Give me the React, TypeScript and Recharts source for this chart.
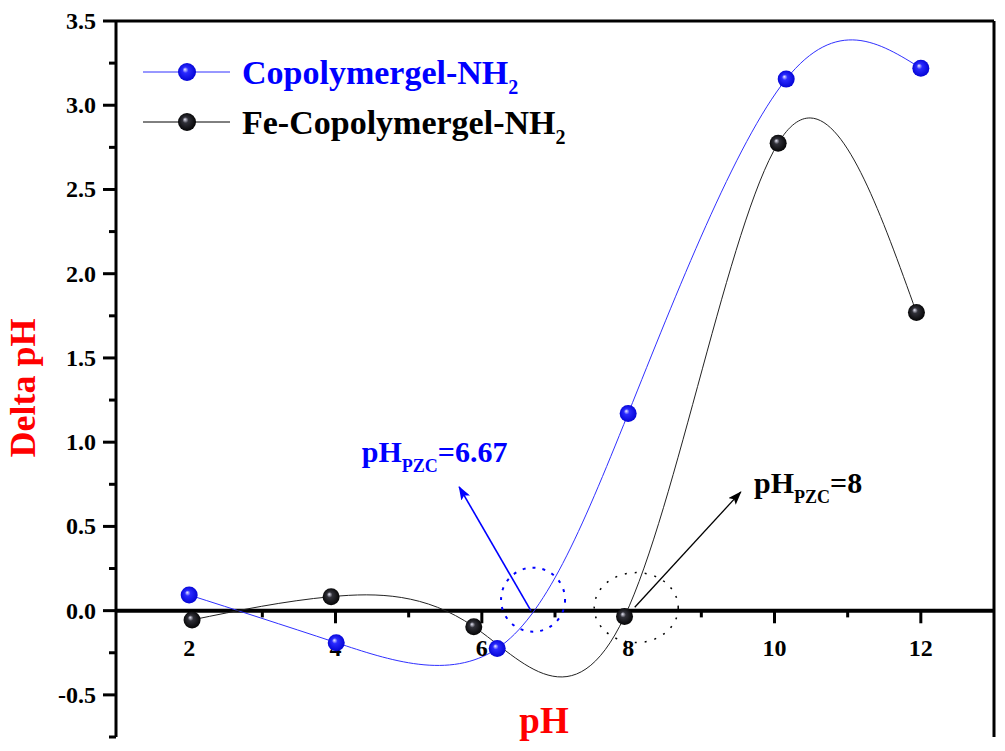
import React from "react";
import {
  LineChart,
  Line,
  XAxis,
  YAxis,
  ReferenceLine,
  ReferenceDot,
} from "recharts";

// measured points (pH, delta pH)
const bluePH = [2, 4.01, 6.21, 8, 10.16, 12];
const blueDelta = [0.093, -0.19, -0.225, 1.17, 3.155, 3.22];
const blackPH = [2.04, 3.94, 5.89, 7.95, 10.05, 11.94];
const blackDelta = [-0.055, 0.083, -0.095, -0.035, 2.775, 1.77];

const xMajorTicks = [2, 4, 6, 8, 10, 12];
const xMinorTicks = [3, 5, 7, 9, 11];
const yTicks = [-0.75, -0.5, -0.25, 0, 0.25, 0.5, 0.75, 1, 1.25, 1.5, 1.75, 2, 2.25, 2.5, 2.75, 3, 3.25, 3.5];

const pzcBlue = 6.67;
const pzcBlack = 8;

const serif = "'Liberation Serif', 'Times New Roman', serif";

const blueData = bluePH.map((x, i) => ({ x, y: blueDelta[i] }));
const blackData = blackPH.map((x, i) => ({ x, y: blackDelta[i] }));

const Ball = ({ cx, cy, grad }: any) => (
  <circle cx={cx} cy={cy} r={8.5} fill={`url(#${grad})`} />
);

const YTick = ({ x, y, payload }: any) => {
  const v = payload.value;
  const major = Math.abs(v * 2 - Math.round(v * 2)) < 1e-6;
  return (
    <g>
      <line x1={x - (major ? 13 : 7)} x2={x} y1={y} y2={y} stroke="#000" strokeWidth={3} />
      {major && (
        <text
          x={x - 20}
          y={y + 8}
          textAnchor="end"
          fontFamily={serif}
          fontWeight="bold"
          fontSize={24}
          fill="#000"
        >
          {v.toFixed(1)}
        </text>
      )}
    </g>
  );
};

const PzcText = ({ cx, cy, value, color }: any) => (
  <text x={cx} y={cy} fontFamily={serif} fontWeight="bold" fill={color} fontSize={30}>
    pH
    <tspan fontSize={18} dy={10}>PZC</tspan>
    <tspan fontSize={30} dy={-10}>={value}</tspan>
  </text>
);

const Legend = () => (
  <svg
    width={460}
    height={120}
    style={{ position: "absolute", left: 130, top: 40 }}
  >
    <line x1={13} x2={100} y1={32} y2={32} stroke="#3030ff" strokeWidth={1} />
    <circle cx={57} cy={32} r={9} fill="url(#ballBlueL)" />
    <text x={112} y={44} fontFamily={serif} fontWeight="bold" fontSize={34} fill="#0000ff">
      Copolymergel-NH<tspan fontSize={20} dy={10}>2</tspan>
    </text>
    <line x1={13} x2={100} y1={82} y2={82} stroke="#000" strokeWidth={1} />
    <circle cx={57} cy={82} r={9} fill="url(#ballBlackL)" />
    <text x={112} y={94} fontFamily={serif} fontWeight="bold" fontSize={34} fill="#000">
      Fe-Copolymergel-NH<tspan fontSize={20} dy={10}>2</tspan>
    </text>
    <defs>
      <radialGradient id="ballBlueL" cx="0.5" cy="0.5" r="0.55" fx="0.38" fy="0.35">
        <stop offset="0" stopColor="#f0f0ff" />
        <stop offset="0.3" stopColor="#2a2aff" />
        <stop offset="1" stopColor="#0000d0" />
      </radialGradient>
      <radialGradient id="ballBlackL" cx="0.5" cy="0.5" r="0.55" fx="0.38" fy="0.35">
        <stop offset="0" stopColor="#e8e8f8" />
        <stop offset="0.3" stopColor="#303038" />
        <stop offset="1" stopColor="#000" />
      </radialGradient>
    </defs>
  </svg>
);

export default function App() {
  return (
    <div style={{ position: "absolute", left: 0, top: 0, width: 1005, height: 751, background: "#fff" }}>
      <LineChart
        width={1005}
        height={751}
        margin={{ top: 21, right: 11, bottom: 14, left: 0 }}
      >
        <defs>
          <radialGradient id="ballBlue" cx="0.5" cy="0.5" r="0.55" fx="0.38" fy="0.35">
            <stop offset="0" stopColor="#f0f0ff" />
            <stop offset="0.3" stopColor="#2a2aff" />
            <stop offset="1" stopColor="#0000d0" />
          </radialGradient>
          <radialGradient id="ballBlack" cx="0.5" cy="0.5" r="0.55" fx="0.38" fy="0.35">
            <stop offset="0" stopColor="#e8e8f8" />
            <stop offset="0.3" stopColor="#303038" />
            <stop offset="1" stopColor="#000" />
          </radialGradient>
          <marker id="arrowBlue" markerWidth={14} markerHeight={10} refX={13} refY={5} orient="auto" markerUnits="userSpaceOnUse">
            <path d="M0,0 L14,5 L0,10 L3,5 z" fill="#0000ff" />
          </marker>
          <marker id="arrowBlack" markerWidth={14} markerHeight={10} refX={13} refY={5} orient="auto" markerUnits="userSpaceOnUse">
            <path d="M0,0 L14,5 L0,10 L3,5 z" fill="#000" />
          </marker>
        </defs>
        <XAxis type="number" dataKey="x" domain={[1, 13]} hide allowDataOverflow />
        <YAxis
          type="number"
          dataKey="y"
          domain={[-0.75, 3.5]}
          ticks={yTicks}
          interval={0}
          width={116}
          tickSize={0}
          tickMargin={0}
          tickLine={false}
          axisLine={{ stroke: "#000", strokeWidth: 3 }}
          tick={<YTick />}
          allowDataOverflow
        />
        <ReferenceLine y={3.5} stroke="#000" strokeWidth={3} ifOverflow="visible" />
        <ReferenceLine x={13} stroke="#000" strokeWidth={3} ifOverflow="visible" />
        <ReferenceLine y={0} stroke="#000" strokeWidth={4} />
        {xMajorTicks.map((t) => (
          <ReferenceLine
            key={`M${t}`}
            segment={[{ x: t, y: 0 }, { x: t, y: -0.075 }]}
            stroke="#000"
            strokeWidth={3}
          />
        ))}
        {xMinorTicks.map((t) => (
          <ReferenceLine
            key={`m${t}`}
            segment={[{ x: t, y: 0 }, { x: t, y: -0.04 }]}
            stroke="#000"
            strokeWidth={3}
          />
        ))}
        {xMajorTicks.map((t) => (
          <ReferenceDot
            key={`L${t}`}
            x={t}
            y={0}
            ifOverflow="visible"
            shape={(p: any) => (
              <text
                x={p.cx}
                y={p.cy + 45}
                textAnchor="middle"
                fontFamily={serif}
                fontWeight="bold"
                fontSize={24}
                fill="#000"
              >
                {t}
              </text>
            )}
          />
        ))}

        <ReferenceDot
          x={6.7}
          y={0.065}
          ifOverflow="visible"
          shape={(p: any) => (
            <circle cx={p.cx} cy={p.cy} r={32} fill="none" stroke="#0000ff" strokeWidth={2} strokeDasharray="3 7" />
          )}
        />
        <ReferenceDot
          x={8.11}
          y={0.018}
          ifOverflow="visible"
          shape={(p: any) => (
            <ellipse cx={p.cx} cy={p.cy} rx={42} ry={35} fill="none" stroke="#000" strokeWidth={1.5} strokeDasharray="2 8" />
          )}
        />
        <ReferenceLine
          segment={[{ x: pzcBlue, y: 0 }, { x: 5.69, y: 0.735 }]}
          ifOverflow="visible"
          shape={(p: any) => (
            <line x1={p.x1} y1={p.y1} x2={p.x2} y2={p.y2} stroke="#0000ff" strokeWidth={1.6} markerEnd="url(#arrowBlue)" />
          )}
        />
        <ReferenceLine
          segment={[{ x: 8.09, y: 0.02 }, { x: 9.54, y: 0.705 }]}
          ifOverflow="visible"
          shape={(p: any) => (
            <line x1={p.x1} y1={p.y1} x2={p.x2} y2={p.y2} stroke="#000" strokeWidth={1.3} markerEnd="url(#arrowBlack)" />
          )}
        />
        <ReferenceDot
          x={4.36}
          y={0.884}
          ifOverflow="visible"
          shape={(p: any) => <PzcText cx={p.cx} cy={p.cy} value={pzcBlue.toFixed(2)} color="#0000ff" />}
        />
        <ReferenceDot
          x={9.72}
          y={0.7}
          ifOverflow="visible"
          shape={(p: any) => <PzcText cx={p.cx} cy={p.cy} value={String(pzcBlack)} color="#000" />}
        />

        <Line
          data={blueData}
          dataKey="y"
          type="natural"
          stroke="#3030ff"
          strokeWidth={1}
          dot={(p: any) => <Ball key={`b${p.index}`} cx={p.cx} cy={p.cy} grad="ballBlue" />}
          isAnimationActive={false}
        />
        <Line
          data={blackData}
          dataKey="y"
          type="natural"
          stroke="#222"
          strokeWidth={1}
          dot={(p: any) => <Ball key={`k${p.index}`} cx={p.cx} cy={p.cy} grad="ballBlack" />}
          isAnimationActive={false}
        />

        <text
          x={23}
          y={388}
          transform="rotate(-90 23 388)"
          textAnchor="middle"
          dominantBaseline="central"
          fontFamily={serif}
          fontWeight="bold"
          fontSize={36}
          fill="#ff0000"
        >
          Delta pH
        </text>
        <text
          x={544}
          y={733}
          textAnchor="middle"
          fontFamily={serif}
          fontWeight="bold"
          fontSize={37}
          fill="#ff0000"
        >
          pH
        </text>
      </LineChart>
      <Legend />
    </div>
  );
}
